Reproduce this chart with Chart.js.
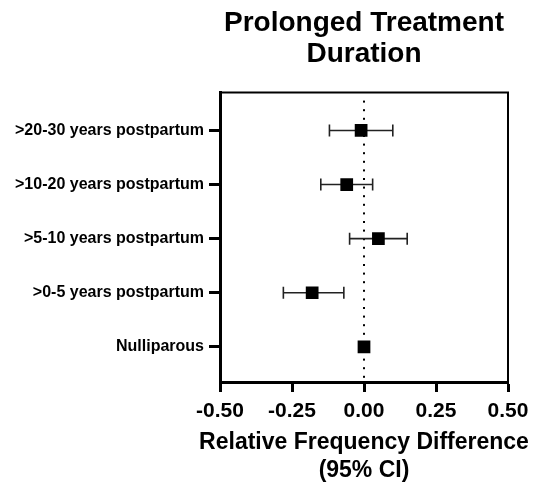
<!DOCTYPE html>
<html>
<head>
<meta charset="utf-8">
<script src="https://cdn.jsdelivr.net/npm/chart.js@4"></script>
<style>
  html, body { margin: 0; padding: 0; background: #fff; }
  canvas { display: block; }
</style>
</head>
<body>
<canvas id="forest" width="542" height="487"></canvas>
<script>
// rows from bottom (index 0) to top
const categories = ['Nulliparous', '>0-5 years postpartum', '>5-10 years postpartum', '>10-20 years postpartum', '>20-30 years postpartum'];
const estimate = [0.00, -0.18, 0.05, -0.06, -0.01];
const ciLower = [null, -0.28, -0.05, -0.15, -0.12];
const ciUpper = [null, -0.07, 0.15, 0.03, 0.10];
const xTicks = [-0.5, -0.25, 0, 0.25, 0.5];
const xTitle = ['Relative Frequency Difference', '(95% CI)'];

const FONT = "'Liberation Sans', Arial, sans-serif";

// dotted line at zero + whiskers, drawn under the squares
const errorBars = {
    id: 'errorBars',
    beforeDatasetsDraw(chart) {
        const ctx = chart.ctx;
        const xs = chart.scales.x, ys = chart.scales.y;
        const area = chart.chartArea;
        ctx.save();
        // zero line
        const x0 = xs.getPixelForValue(0);
        ctx.fillStyle = '#000';
        for (let y = area.top + 9; y < area.bottom; y += 8.6) {
            ctx.fillRect(x0 - 1, y - 1, 2, 2);
        }
        // whiskers
        ctx.strokeStyle = '#222';
        ctx.lineWidth = 1.6;
        for (let i = 0; i < categories.length; i++) {
            if (ciLower[i] == null) continue;
            const y = ys.getPixelForValue(i);
            const xl = xs.getPixelForValue(ciLower[i]);
            const xu = xs.getPixelForValue(ciUpper[i]);
            ctx.beginPath();
            ctx.moveTo(xl, y); ctx.lineTo(xu, y);
            ctx.moveTo(xl, y - 6); ctx.lineTo(xl, y + 6);
            ctx.moveTo(xu, y - 6); ctx.lineTo(xu, y + 6);
            ctx.stroke();
        }
        ctx.restore();
    },
    afterDraw(chart) {
        const ctx = chart.ctx;
        const a = chart.chartArea;
        ctx.save();
        // top and right edges of the box
        ctx.strokeStyle = '#000';
        ctx.lineWidth = 2;
        ctx.beginPath();
        ctx.moveTo(a.left, a.top);
        ctx.lineTo(a.right, a.top);
        ctx.lineTo(a.right, a.bottom);
        ctx.stroke();
        // x axis title, allowed to run wider than the plot
        ctx.fillStyle = '#000';
        ctx.font = 'bold 23px ' + FONT;
        ctx.textAlign = 'center';
        ctx.textBaseline = 'middle';
        const cx = (a.left + a.right) / 2;
        const yb = chart.scales.x.bottom;
        ctx.fillText(xTitle[0], cx, yb - 44);
        ctx.fillText(xTitle[1], cx, yb - 16);
        ctx.restore();
    }
};

const points = categories.map((c, i) => ({ x: estimate[i], y: i }));

new Chart(document.getElementById('forest'), {
    type: 'scatter',
    data: {
        datasets: [{
            data: points,
            pointStyle: 'rect',
            pointRadius: 9,
            pointHoverRadius: 9,
            backgroundColor: '#000',
            borderColor: '#000',
            borderWidth: 0
        }]
    },
    options: {
        responsive: false,
        animation: false,
        devicePixelRatio: 1,
        layout: { padding: { left: 0, right: 34, top: 0, bottom: 0 } },
        plugins: {
            legend: { display: false },
            tooltip: { enabled: false },
            title: {
                display: true,
                fullSize: false,
                text: ['Prolonged Treatment', 'Duration'],
                color: '#000',
                font: { family: FONT, size: 28, weight: 'bold', lineHeight: 1.1 },
                padding: { top: 8, bottom: 23 }
            }
        },
        scales: {
            x: {
                type: 'linear',
                min: -0.5,
                max: 0.5,
                afterBuildTicks(scale) { scale.ticks = xTicks.map(v => ({ value: v })); },
                afterFit(scale) { scale.height = 105; },
                border: { display: true, color: '#000', width: 3 },
                grid: { drawOnChartArea: false, color: '#000', tickLength: 10, tickWidth: 3 },
                ticks: {
                    color: '#000',
                    padding: 7,
                    maxRotation: 0,
                    font: { family: FONT, size: 21, weight: 'bold' },
                    callback: v => v.toFixed(2)
                }
            },
            y: {
                type: 'linear',
                min: -0.65,
                max: 4.7,
                afterBuildTicks(scale) { scale.ticks = categories.map((c, i) => ({ value: i })); },
                afterFit(scale) { scale.width = 220; },
                border: { display: true, color: '#000', width: 3 },
                grid: { drawOnChartArea: false, color: '#000', tickLength: 11, tickWidth: 3 },
                ticks: {
                    color: '#000',
                    padding: 5,
                    font: { family: FONT, size: 16, weight: 'bold' },
                    callback: v => categories[v]
                }
            }
        }
    },
    plugins: [errorBars]
});
</script>
</body>
</html>
